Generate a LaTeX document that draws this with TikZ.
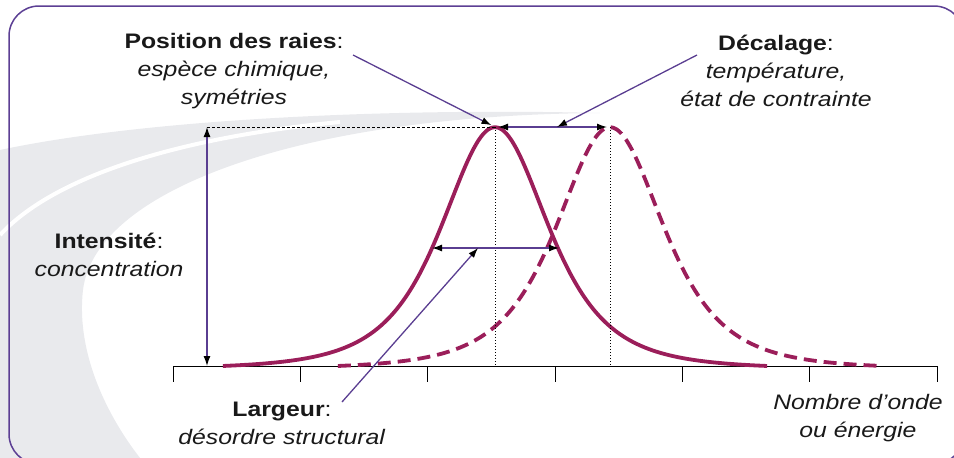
\documentclass[tikz,border=0pt]{standalone}
\usepackage{fontspec}
\setmainfont[FakeStretch=1.18]{Liberation Sans}
\usetikzlibrary{arrows.meta}
\definecolor{raie}{RGB}{155,30,90}
\definecolor{violetfl}{RGB}{90,62,145}
\definecolor{cadre}{RGB}{92,63,148}
\definecolor{filigrane}{RGB}{233,234,237}

\begin{document}
\begin{tikzpicture}[x=1pt,y=-1pt,>={Latex[length=10pt,width=7pt,color=black]},
    courbe/.style={raie,line width=3.8pt},
    fleche/.style={violetfl,line width=1.3pt},
    repere/.style={black,line width=0.8pt},
    legende/.style={align=center,text=black!90,font=\fontsize{21}{28}\selectfont}]
  \useasboundingbox (0,0) rectangle (954,458);
  \clip (0,0) rectangle (954,458);
  % filigrane
  \fill[filigrane] (0,150) .. controls (150,118) and (400,108) .. (600,113)
    .. controls (300,115) and (95,190) .. (83,290)
    .. controls (75,360) and (115,430) .. (150,470) -- (0,470) -- cycle;
  \draw[white,line width=4pt] (0,235) .. controls (60,170) and (200,135) .. (340,122);
  \draw[cadre,line width=1.5pt,rounded corners=30pt] (9,6) rectangle (964,464);

  % axe
  \draw[repere] (173,366) -- (937,366);
  \foreach \k in {0,...,6}
    \draw[repere] (173+127.33*\k,366) -- ++(0,16);

  % raies
  \draw[courbe] plot[domain=-4.32:4.32,samples=120,smooth]
    ({495+63*\x},{366-242*(1/(1+0.4142*\x*\x)^2-0.013)});
  \draw[courbe,dash pattern=on 13pt off 7pt] plot[domain=-4.32:4.32,samples=120,smooth]
    ({610+63*\x},{366-242*(1/(1+0.4142*\x*\x)^2-0.013)});

  \coordinate (haut) at (207,127);
  \coordinate (bas) at (207,366);
  \coordinate (sommet1) at (495,127);
  \coordinate (sommet2) at (610,127);
  \coordinate (pied1) at (495,366);
  \coordinate (pied2) at (610,366);
  \coordinate (mi-g) at (432,248);
  \coordinate (mi-d) at (559,248);
  \coordinate (decal-mi) at (557,127);
  \coordinate (larg-mi) at (478,248);

  \draw[repere,line width=1pt,dash pattern=on 1.2pt off 1.8pt] (sommet1) -- (pied1);
  \draw[repere,line width=1pt,dash pattern=on 1.2pt off 1.8pt] (sommet2) -- (pied2);
  \draw[repere,dash pattern=on 3pt off 2pt] (haut) -- (sommet1);

  \draw[fleche,<->] (haut) -- (bas);
  \draw[fleche,<->,shorten <=3pt,shorten >=3pt] (sommet1) -- (sommet2);
  \draw[fleche,<->] (mi-g) -- (mi-d);

  % textes
  \node[legende] (pos) at (234,71) {\textbf{Position des raies}:\\ \textit{espèce chimique,}\\ \textit{symétries}};
  \node[legende] (dec) at (776,71) {\textbf{Décalage}:\\ \textit{température,}\\ \textit{état de contrainte}};
  \node[legende] (int) at (109,255) {\textbf{Intensité}:\\ \textit{concentration}};
  \node[legende] (larg) at (282,423) {\textbf{Largeur}:\\ \textit{désordre structural}};
  \node[legende] (axe) at (858,418) {\textit{Nombre d’onde}\\ \textit{ou énergie}};

  \coordinate (pos-pt) at (353,55);
  \coordinate (dec-pt) at (697,55);
  \coordinate (larg-pt) at (342,402);
  \draw[fleche,->,shorten >=4pt] (pos-pt) -- (sommet1);
  \draw[fleche,->] (dec-pt) -- (decal-mi);
  \draw[fleche,->] (larg-pt) -- (larg-mi);
\end{tikzpicture}
\end{document}
